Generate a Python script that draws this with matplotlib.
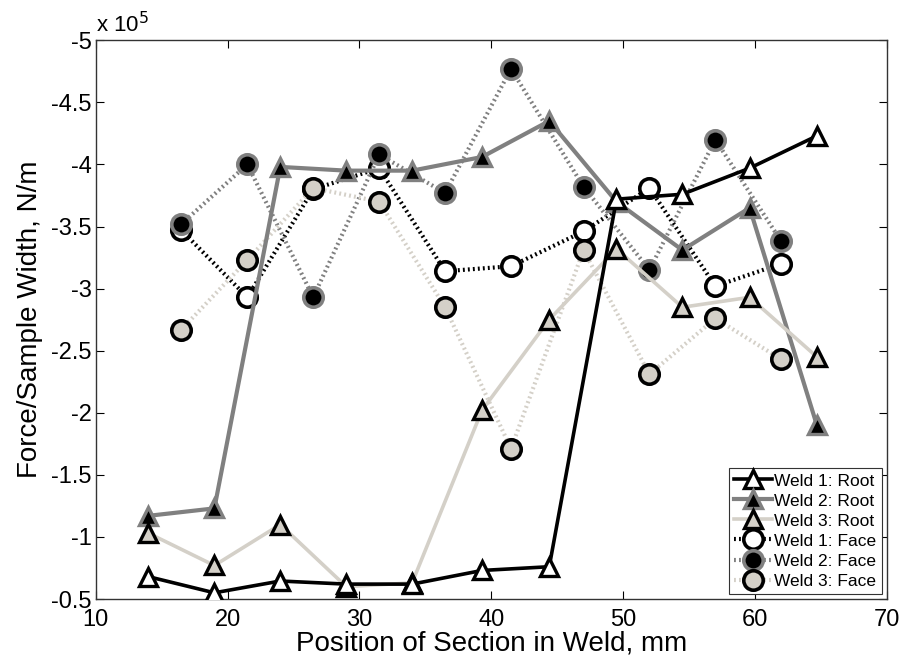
import numpy as np
import matplotlib
import matplotlib.pyplot as plt
from matplotlib.ticker import FormatStrFormatter

matplotlib.rcParams['axes.unicode_minus'] = False
plt.rcParams['font.family'] = ['Liberation Sans', 'DejaVu Sans']

# force per sample width, in units of 1e5 N/m
x_root = [14, 19, 24, 29, 34, 39.3, 44.4, 49.5, 54.5, 59.6, 64.7]
weld1_root = [-0.68, -0.55, -0.645, -0.62, -0.62, -0.73, -0.76, -3.72, -3.76, -3.97, -4.23]
weld2_root = [-1.17, -1.23, -3.98, -3.95, -3.95, -4.06, -4.35, -3.70, -3.31, -3.65, -1.90]
weld3_root = [-1.03, -0.77, -1.10, -0.60, -0.63, -2.02, -2.75, -3.32, -2.85, -2.93, -2.45]

x_face = [16.5, 21.5, 26.5, 31.5, 36.5, 41.5, 47, 52, 57, 62]
weld1_face = [-3.47, -2.93, -3.80, -3.97, -3.14, -3.18, -3.46, -3.81, -3.02, -3.20]
weld2_face = [-3.52, -4.00, -2.93, -4.08, -3.77, -4.77, -3.82, -3.15, -4.20, -3.38]
weld3_face = [-2.67, -3.23, -3.81, -3.70, -2.85, -1.71, -3.31, -2.31, -2.76, -2.43]

gray = '#808080'
light = '#d4d0c8'
dots = (0, (0.45, 0.75))

fig = plt.figure(figsize=(9.03, 6.6), dpi=100)
ax = fig.add_axes([0.106, 0.0924, 0.876, 0.8466])

f1, = ax.plot(x_face, weld1_face, linestyle=dots, lw=3, color='black', marker='o',
              ms=14, mfc='white', mec='black', mew=2.6, zorder=2, label='Weld 1: Face')
f2, = ax.plot(x_face, weld2_face, linestyle=dots, lw=3, color=gray, marker='o',
              ms=14, mfc='black', mec=gray, mew=2.6, zorder=2.1, label='Weld 2: Face')
f3, = ax.plot(x_face, weld3_face, linestyle=dots, lw=3, color=light, marker='o',
              ms=14, mfc=light, mec='black', mew=2.6, zorder=2.2, label='Weld 3: Face')

r2, = ax.plot(x_root, weld2_root, '-', lw=3, color=gray, marker='^',
              ms=13, mfc='black', mec=gray, mew=2.4, zorder=3, label='Weld 2: Root')
r3, = ax.plot(x_root, weld3_root, '-', lw=2.6, color=light, marker='^',
              ms=13, mfc=light, mec='black', mew=2.4, zorder=3.1, label='Weld 3: Root')
r1, = ax.plot(x_root, weld1_root, '-', lw=2.6, color='black', marker='^',
              ms=13, mfc='white', mec='black', mew=2.4, zorder=3.2, label='Weld 1: Root')

ax.set_xlim(10, 70)
ax.set_ylim(-0.5, -5)
ax.set_xticks(np.arange(10, 71, 10))
ax.set_yticks(np.arange(-5, -0.49, 0.5))
ax.yaxis.set_major_formatter(FormatStrFormatter('%g'))
ax.tick_params(direction='in', length=6, width=0.8, labelsize=17, top=True, right=True)
ax.tick_params(axis='x', pad=7)
ax.tick_params(axis='y', pad=3)
for s in ax.spines.values():
    s.set_linewidth(1.0)
    s.set_color('#333333')

ax.set_xlabel('Position of Section in Weld, mm', fontsize=20, labelpad=0)
ax.set_ylabel('Force/Sample Width, N/m', fontsize=20, labelpad=6)
ax.text(0.0, 1.005, 'x 10$^{5}$', transform=ax.transAxes, fontsize=16,
        ha='left', va='bottom')

leg = ax.legend(handles=[r1, r2, r3, f1, f2, f3], loc='lower right', fontsize=12.5,
                handlelength=2.2, handletextpad=0.1, labelspacing=0.28,
                borderpad=0.3, borderaxespad=0.3, fancybox=False, framealpha=1,
                edgecolor='#333333')
leg.get_frame().set_linewidth(0.8)

fig.savefig('out.png', dpi=100)
